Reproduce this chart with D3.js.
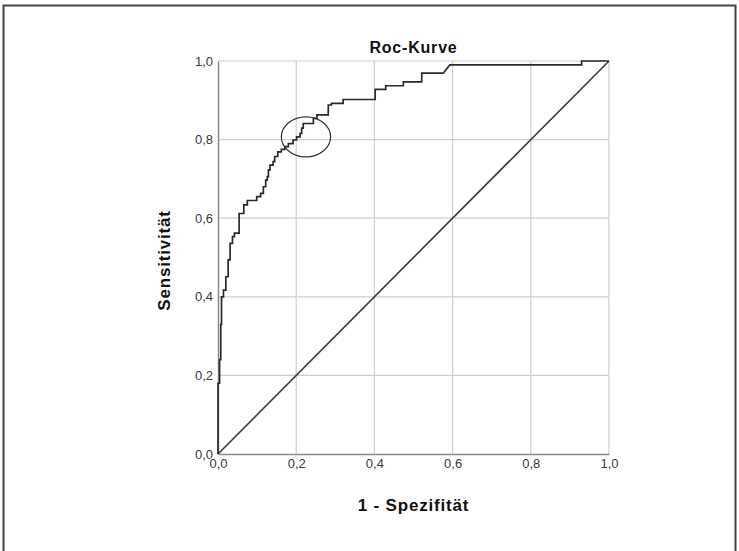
<!DOCTYPE html>
<html>
<head>
<meta charset="utf-8">
<script src="https://cdn.jsdelivr.net/npm/d3@7"></script>
<style>
body { margin:0; background:#fff; }
svg { font-family: "Liberation Sans", Arial, sans-serif; }
</style>
</head>
<body>
<svg width="739" height="551"></svg>
<script>
// ROC curve vertices (1 - specificity, sensitivity)
var fpr = [0,0,0.004,0.004,0.007,0.007,0.009,0.009,0.014,0.014,0.020,0.020,0.026,0.026,0.031,0.031,
    0.037,0.037,0.042,0.042,0.054,0.054,0.066,0.066,0.075,0.075,0.099,0.099,0.109,0.109,0.116,0.116,
    0.122,0.122,0.126,0.126,0.129,0.129,0.133,0.133,0.141,0.141,0.145,0.145,0.153,0.153,0.162,0.162,
    0.171,0.171,0.180,0.180,0.192,0.192,0.201,0.201,0.210,0.210,0.214,0.214,0.218,0.218,0.244,0.244,
    0.253,0.253,0.282,0.282,0.290,0.290,0.320,0.320,0.402,0.402,0.429,0.429,0.474,0.474,0.521,0.521,
    0.576,0.593,0.930,0.930,1.0]
var tpr = [0,0.18,0.18,0.24,0.24,0.33,0.33,0.40,0.40,0.417,0.417,0.451,0.451,0.494,0.494,0.536,
    0.536,0.553,0.553,0.562,0.562,0.612,0.612,0.634,0.634,0.645,0.645,0.655,0.655,0.663,0.663,0.680,
    0.680,0.697,0.697,0.706,0.706,0.723,0.723,0.735,0.735,0.744,0.744,0.757,0.757,0.769,0.769,0.775,
    0.775,0.782,0.782,0.790,0.790,0.799,0.799,0.807,0.807,0.816,0.816,0.829,0.829,0.841,0.841,0.854,
    0.854,0.863,0.863,0.888,0.888,0.892,0.892,0.902,0.902,0.928,0.928,0.937,0.937,0.947,0.947,0.969,
    0.969,0.990,0.990,1.0,1.0]
var ticks = [0,0.2,0.4,0.6,0.8,1.0]
var tickLabels = ["0,0","0,2","0,4","0,6","0,8","1,0"]
var refLine = [0,1]
// marked ellipse: centre and radii in data units
var mark = {cx:0.225, cy:0.807, rx:0.063, ry:0.051}

var margins = {top:61, left:218}
var width = 391, height = 393

var svg = d3.select("svg")

// outer frame, open at the bottom
svg.append("rect")
    .attr("x", 3.5).attr("y", 5.5)
    .attr("width", 732).attr("height", 580)
    .attr("fill", "none").attr("stroke", "#444").attr("stroke-width", 2)

var xScale = d3.scaleLinear().domain([0,1]).range([0,width])
var yScale = d3.scaleLinear().domain([0,1]).range([height,0])

var g = svg.append("g")
    .attr("transform", "translate("+margins.left+","+margins.top+")")

// grid
g.selectAll(".vgrid").data(ticks.slice(1)).enter().append("line")
    .attr("x1", d => xScale(d)).attr("x2", d => xScale(d))
    .attr("y1", 0).attr("y2", height)
    .attr("stroke", "#cfcfcf").attr("stroke-width", 1.2)
g.selectAll(".hgrid").data(ticks.slice(1)).enter().append("line")
    .attr("y1", d => yScale(d)).attr("y2", d => yScale(d))
    .attr("x1", 0).attr("x2", width)
    .attr("stroke", "#cfcfcf").attr("stroke-width", 1.2)

// axes
var xAxis = d3.axisBottom(xScale).tickValues(ticks).tickSize(0).tickPadding(5)
    .tickFormat((d,i) => tickLabels[i])
var yAxis = d3.axisLeft(yScale).tickValues(ticks).tickSize(0).tickPadding(5)
    .tickFormat((d,i) => tickLabels[i])

g.append("g").attr("transform", "translate(0,"+height+")").call(xAxis)
g.append("g").call(yAxis)
g.selectAll(".domain").attr("stroke", "#8a8a8a").attr("stroke-width", 1.5)
g.selectAll(".tick text").attr("fill", "#3a3a3a").style("font-size", "13px")
    .style("font-family", "'Liberation Sans', Arial, sans-serif")

// diagonal reference line
g.append("line")
    .attr("x1", xScale(refLine[0])).attr("y1", yScale(refLine[0]))
    .attr("x2", xScale(refLine[1])).attr("y2", yScale(refLine[1]))
    .attr("stroke", "#3a3a3a").attr("stroke-width", 1.6)

// roc curve
var line = d3.line()
    .x((d,i) => xScale(fpr[i]))
    .y((d,i) => yScale(tpr[i]))
g.append("path")
    .datum(fpr)
    .attr("d", line)
    .attr("fill", "none").attr("stroke", "#2a2a2a").attr("stroke-width", 1.7)

// ellipse marking
g.append("ellipse")
    .attr("cx", xScale(mark.cx)).attr("cy", yScale(mark.cy))
    .attr("rx", xScale(mark.rx) - xScale(0)).attr("ry", yScale(0) - yScale(mark.ry))
    .attr("fill", "none").attr("stroke", "#333").attr("stroke-width", 1.2)

// titles
svg.append("text")
    .attr("x", margins.left + width/2).attr("y", 53)
    .attr("text-anchor", "middle")
    .style("font-size", "16px").style("font-weight", "bold").style("letter-spacing", "0.8px")
    .attr("fill", "#111")
    .text("Roc-Kurve")

svg.append("text")
    .attr("x", margins.left + width/2).attr("y", 511)
    .attr("text-anchor", "middle")
    .style("font-size", "17px").style("font-weight", "bold").style("letter-spacing", "0.8px")
    .attr("fill", "#111")
    .text("1 - Spezifität")

svg.append("text")
    .attr("transform", "translate(170,"+(margins.top + height/2 + 3)+") rotate(-90)")
    .attr("text-anchor", "middle")
    .style("font-size", "17px").style("font-weight", "bold").style("letter-spacing", "0.8px")
    .attr("fill", "#111")
    .text("Sensitivität")
</script>
</body>
</html>
